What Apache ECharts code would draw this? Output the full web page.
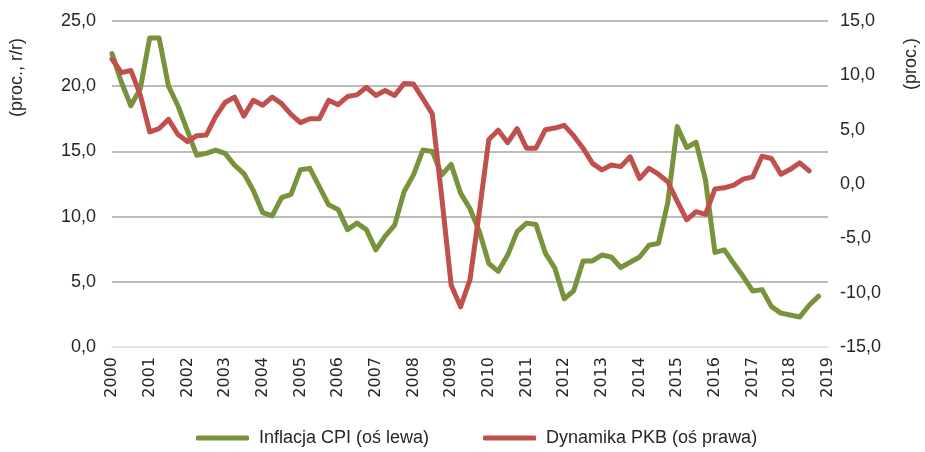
<!DOCTYPE html>
<html>
<head>
<meta charset="utf-8">
<script src="https://cdn.jsdelivr.net/npm/echarts@6/dist/echarts.min.js"></script>
<style>
  html, body { margin: 0; padding: 0; background: #fff; }
  #chart { width: 925px; height: 452px; }
</style>
</head>
<body>
<div id="chart"></div>
<script>
// tick labels (years) - data is quarterly, 2000 Q1 .. 2019 Q1
const years = ['2000', '2001', '2002', '2003', '2004', '2005', '2006', '2007', '2008', '2009',
  '2010', '2011', '2012', '2013', '2014', '2015', '2016', '2017', '2018', '2019']

// Inflacja CPI (oś lewa), r/r %
const cpi = [
  22.5, 20.3, 18.5, 19.8, 23.7, 23.7, 20.0, 18.5, 16.6, 14.7,
  14.85, 15.1, 14.85, 13.95, 13.3, 12.0, 10.3, 10.05, 11.45, 11.7,
  13.6, 13.7, 12.3, 10.9, 10.55, 9.0, 9.5, 9.0, 7.45, 8.5,
  9.35, 11.9, 13.2, 15.1, 15.0, 13.2, 14.0, 11.8, 10.6, 8.85,
  6.4, 5.8, 7.05, 8.85, 9.5, 9.4, 7.2, 6.05, 3.7, 4.3,
  6.6, 6.6, 7.05, 6.9, 6.1, 6.5, 6.9, 7.8, 7.95, 11.1,
  16.9, 15.3, 15.7, 12.8, 7.25, 7.45, 6.4, 5.4, 4.3, 4.4,
  3.1, 2.6, 2.45, 2.3, 3.2, 3.9
]

// Dynamika PKB (oś prawa), %
const gdp = [
  11.5, 10.25, 10.45, 8.2, 4.8, 5.1, 5.95, 4.55, 3.9, 4.45,
  4.5, 6.2, 7.5, 8.0, 6.25, 7.7, 7.25, 8.0, 7.4, 6.4,
  5.65, 6.0, 6.0, 7.7, 7.3, 8.05, 8.2, 8.9, 8.15, 8.6,
  8.15, 9.25, 9.2, 7.85, 6.45, -1.2, -9.3, -11.3, -8.8, -2.5,
  4.1, 4.95, 3.8, 5.1, 3.3, 3.3, 5.0, 5.15, 5.4, 4.45,
  3.3, 1.9, 1.3, 1.75, 1.6, 2.5, 0.5, 1.45, 0.9, 0.2,
  -1.6, -3.3, -2.55, -2.8, -0.45, -0.35, -0.1, 0.45, 0.65, 2.55,
  2.35, 0.9, 1.35, 1.95, 1.2
]

const leftTicks = { min: 0, max: 25, interval: 5 }
const rightTicks = { min: -15, max: 15, interval: 5 }

// kategorie kwartalne
const quarters = []
years.forEach((y, i) => {
  const n = i === years.length - 1 ? 1 : 4
  for (let q = 1; q <= n; q++) quarters.push(y + ' Q' + q)
})

const FONT = "'Liberation Sans', Arial, sans-serif"
const TEXT = '#262626'

const chart = echarts.init(document.getElementById('chart'))

const option = {
  animation: false,
  textStyle: { fontFamily: FONT },
  grid: { left: 112, right: 97, top: 21, bottom: 105 },
  legend: {
    bottom: 0,
    left: 191,
    itemWidth: 53,
    itemHeight: 5,
    itemGap: 54,
    icon: 'roundRect',
    textStyle: { color: TEXT, fontSize: 18, fontFamily: FONT, padding: [0, 0, 0, 5] },
    data: ['Inflacja CPI (oś lewa)', 'Dynamika PKB (oś prawa)']
  },
  graphic: [
    {
      type: 'text',
      left: 8,
      top: 38,
      rotation: Math.PI / 2,
      style: { text: '(proc., r/r)', fill: TEXT, font: '18px ' + FONT }
    },
    {
      type: 'text',
      left: 902,
      top: 38,
      rotation: Math.PI / 2,
      style: { text: '(proc.)', fill: TEXT, font: '18px ' + FONT }
    }
  ],
  xAxis: {
    type: 'category',
    data: quarters,
    boundaryGap: false,
    axisLine: { lineStyle: { color: '#d9d9d9', width: 1.5 } },
    axisTick: { show: false },
    axisLabel: {
      interval: 3,
      rotate: 90,
      margin: 10,
      color: TEXT,
      fontSize: 16,
      fontFamily: "'DejaVu Sans', sans-serif",
      showMaxLabel: true,
      hideOverlap: false,
      formatter: (v) => v.slice(0, 4)
    }
  },
  yAxis: [
    {
      type: 'value',
      min: leftTicks.min,
      max: leftTicks.max,
      interval: leftTicks.interval,
      axisLine: { show: false },
      axisTick: { show: false },
      axisLabel: {
        color: TEXT,
        fontSize: 18,
        margin: 16,
        formatter: (v) => v.toFixed(1).replace('.', ',')
      },
      splitLine: { showMinLine: false, lineStyle: { color: '#a6a6a6', width: 1.5 } }
    },
    {
      type: 'value',
      min: rightTicks.min,
      max: rightTicks.max,
      interval: rightTicks.interval,
      axisLine: { show: false },
      axisTick: { show: false },
      axisLabel: {
        color: TEXT,
        fontSize: 18,
        margin: 12,
        formatter: (v) => v.toFixed(1).replace('.', ',')
      },
      splitLine: { show: false }
    }
  ],
  series: [
    {
      name: 'Inflacja CPI (oś lewa)',
      type: 'line',
      yAxisIndex: 0,
      data: cpi,
      showSymbol: false,
      lineStyle: { color: '#77933c', width: 5, cap: 'round', join: 'round' },
      itemStyle: { color: '#77933c' }
    },
    {
      name: 'Dynamika PKB (oś prawa)',
      type: 'line',
      yAxisIndex: 1,
      data: gdp,
      showSymbol: false,
      lineStyle: { color: '#c0504d', width: 5, cap: 'round', join: 'round' },
      itemStyle: { color: '#c0504d' }
    }
  ]
}

chart.setOption(option)
</script>
</body>
</html>
